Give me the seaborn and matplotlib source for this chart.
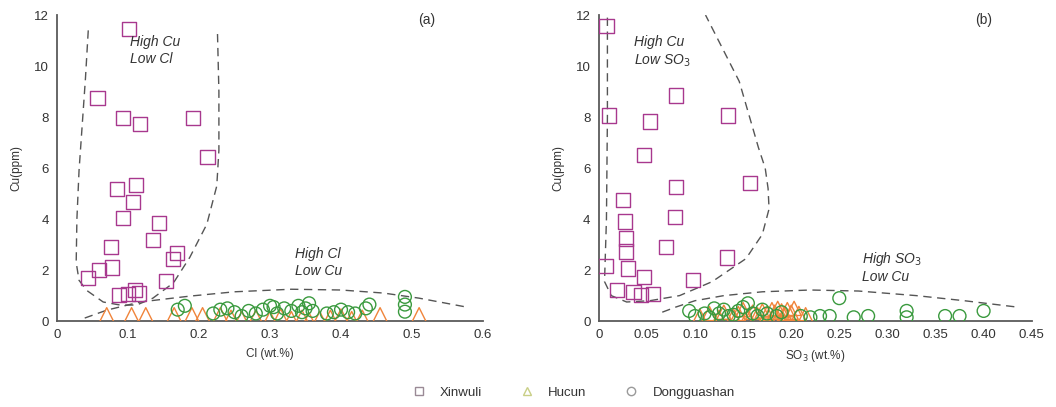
import numpy as np
import pandas as pd
import matplotlib
matplotlib.use("Agg")
import matplotlib.pyplot as plt
from matplotlib.lines import Line2D
import seaborn as sns

# ---------------- data ----------------
sites = ["Xinwuli", "Hucun", "Dongguashan"]

# panel (a): Cl vs Cu
xw_cl = [0.101, 0.057, 0.093, 0.117, 0.192, 0.212, 0.084, 0.111, 0.107, 0.093, 0.144, 0.135,
         0.076, 0.169, 0.163, 0.059, 0.077, 0.044, 0.154, 0.087, 0.100, 0.110, 0.116]
xw_cu_a = [11.45, 8.74, 7.95, 7.73, 7.95, 6.44, 5.17, 5.33, 4.67, 4.03, 3.85, 3.18,
           2.90, 2.66, 2.43, 2.00, 2.10, 1.69, 1.57, 1.02, 1.05, 1.22, 1.08]
hc_cl = [0.07, 0.105, 0.125, 0.165, 0.19, 0.205, 0.23, 0.245, 0.26, 0.28, 0.30, 0.315,
         0.33, 0.345, 0.355, 0.37, 0.385, 0.40, 0.415, 0.43, 0.455, 0.51]
hc_cu_a = [0.25, 0.25, 0.25, 0.25, 0.25, 0.25, 0.25, 0.15, 0.10, 0.15, 0.10, 0.20,
           0.10, 0.15, 0.05, 0.10, 0.15, 0.20, 0.10, 0.15, 0.25, 0.25]
dg_cl = [0.17, 0.18, 0.22, 0.23, 0.24, 0.25, 0.26, 0.27, 0.28, 0.29, 0.30, 0.305, 0.31, 0.32,
         0.33, 0.34, 0.345, 0.35, 0.355, 0.36, 0.38, 0.39, 0.40, 0.41, 0.42, 0.435, 0.44,
         0.49, 0.49, 0.49]
dg_cu_a = [0.45, 0.60, 0.30, 0.45, 0.50, 0.35, 0.20, 0.40, 0.30, 0.45, 0.60, 0.55, 0.30, 0.50,
           0.40, 0.60, 0.35, 0.50, 0.70, 0.40, 0.30, 0.35, 0.45, 0.35, 0.30, 0.50, 0.65,
           0.37, 0.65, 0.95]

# panel (b): SO3 vs Cu
xw_so3 = [0.008, 0.011, 0.080, 0.053, 0.134, 0.047, 0.080, 0.157, 0.025, 0.027, 0.079, 0.028,
          0.028, 0.070, 0.133, 0.007, 0.030, 0.047, 0.098, 0.019, 0.036, 0.044, 0.056]
xw_cu_b = [11.58, 8.06, 8.85, 7.83, 8.06, 6.52, 5.26, 5.41, 4.74, 3.91, 4.07, 3.24,
           2.73, 2.92, 2.49, 2.17, 2.06, 1.74, 1.62, 1.23, 1.15, 1.03, 1.07]
hc_so3 = [0.105, 0.115, 0.125, 0.13, 0.14, 0.145, 0.15, 0.155, 0.16, 0.165, 0.17, 0.175,
          0.18, 0.183, 0.186, 0.19, 0.193, 0.196, 0.20, 0.203, 0.208, 0.215]
hc_cu_b = [0.20, 0.30, 0.15, 0.35, 0.20, 0.30, 0.45, 0.20, 0.35, 0.25, 0.40, 0.30,
           0.45, 0.35, 0.50, 0.40, 0.30, 0.45, 0.35, 0.50, 0.30, 0.25]
dg_so3 = [0.094, 0.10, 0.11, 0.115, 0.12, 0.125, 0.13, 0.135, 0.14, 0.145, 0.15, 0.155, 0.16,
          0.165, 0.17, 0.175, 0.185, 0.19, 0.21, 0.22, 0.23, 0.24, 0.25, 0.265, 0.28, 0.32,
          0.32, 0.36, 0.375, 0.40]
dg_cu_b = [0.40, 0.20, 0.30, 0.15, 0.50, 0.30, 0.45, 0.20, 0.25, 0.40, 0.55, 0.70, 0.30,
           0.20, 0.45, 0.30, 0.20, 0.35, 0.20, 0.15, 0.20, 0.20, 0.90, 0.15, 0.20, 0.40,
           0.15, 0.20, 0.20, 0.40]

# field boundary curves (dashed)
a_up_x = [0.044, 0.040, 0.035, 0.031, 0.028, 0.027, 0.031, 0.042, 0.065, 0.089, 0.112, 0.135,
          0.164, 0.187, 0.211, 0.225, 0.228, 0.228, 0.226]
a_up_y = [11.4, 9.5, 7.5, 5.9, 4.0, 2.3, 1.6, 1.2, 0.75, 0.63, 0.63, 0.9,
          1.5, 2.5, 3.8, 5.3, 6.7, 9.0, 11.3]
a_lo_x = [0.039, 0.07, 0.117, 0.187, 0.25, 0.33, 0.40, 0.46, 0.51, 0.577]
a_lo_y = [0.12, 0.43, 0.75, 0.98, 1.15, 1.25, 1.22, 1.10, 0.90, 0.55]
b_up_x = [0.009, 0.009, 0.008, 0.006, 0.013, 0.029, 0.053, 0.084, 0.118, 0.153, 0.170, 0.177,
          0.176, 0.173, 0.166, 0.146, 0.111]
b_up_y = [11.9, 8.0, 4.0, 1.55, 1.0, 0.75, 0.8, 1.0, 1.55, 2.45, 3.4, 4.4,
          5.2, 6.0, 6.8, 9.4, 12.0]
b_lo_x = [0.066, 0.08, 0.10, 0.13, 0.17, 0.22, 0.27, 0.33, 0.38, 0.435]
b_lo_y = [0.35, 0.55, 0.80, 1.00, 1.15, 1.22, 1.18, 1.00, 0.80, 0.55]

yticks = [0, 2, 4, 6, 8, 10, 12]
xticks_a = [0, 0.1, 0.2, 0.3, 0.4, 0.5, 0.6]
xticklabels_a = ["0", "0.1", "0.2", "0.3", "0.4", "0.5", "0.6"]
xticks_b = [0, 0.05, 0.10, 0.15, 0.20, 0.25, 0.30, 0.35, 0.40, 0.45]
xticklabels_b = ["0", "0.05", "0.10", "0.15", "0.20", "0.25", "0.30", "0.35", "0.40", "0.45"]

# ---------------- style ----------------
sns.set_style("white")
plt.rcParams["font.family"] = ["Liberation Sans", "DejaVu Sans"]

colors = {"Xinwuli": "#a8388e", "Hucun": "#f0843a", "Dongguashan": "#3a9a3e"}
markers = {"Xinwuli": "s", "Hucun": "^", "Dongguashan": "o"}
sizes = {"Xinwuli": 105, "Hucun": 105, "Dongguashan": 85}
axis_col = "#5a5a5a"
txt_col = "#333333"

fig = plt.figure(figsize=(10.56, 4.07), dpi=100)
ax_a = fig.add_axes([0.054, 0.211, 0.4034, 0.752])
ax_b = fig.add_axes([0.567, 0.211, 0.410, 0.752])

def panel(ax, sets, xlim, xticks, xticklabels, xlabel, curves):
    for site, (xs, ys) in zip(sites, sets):
        df = pd.DataFrame({"x": xs, "y": ys})
        sns.scatterplot(data=df, x="x", y="y", ax=ax, marker=markers[site], s=sizes[site],
                        facecolor="none", edgecolor=colors[site], linewidth=1.0,
                        legend=False, zorder=3)
    for cx, cy in curves:
        ax.plot(cx, cy, linestyle=(0, (6, 4)), color="#555555", linewidth=1.0, zorder=2)
    ax.set_xlim(xlim)
    ax.set_ylim(0, 12)
    ax.set_xticks(xticks)
    ax.set_xticklabels(xticklabels)
    ax.set_yticks(yticks)
    ax.set_yticklabels([str(t) for t in yticks])
    for s in ["top", "right"]:
        ax.spines[s].set_visible(False)
    for s in ["left", "bottom"]:
        ax.spines[s].set_color(axis_col)
        ax.spines[s].set_linewidth(1.3)
    ax.tick_params(direction="in", length=3, width=1, colors=axis_col,
                   labelcolor=txt_col, labelsize=9.5, pad=6)
    ax.set_xlabel(xlabel, fontsize=8.5, color=txt_col, labelpad=5)
    ax.set_ylabel("Cu(ppm)", fontsize=8.5, color=txt_col, labelpad=8)
    ax.margins(0)

panel(ax_a, [(xw_cl, xw_cu_a), (hc_cl, hc_cu_a), (dg_cl, dg_cu_a)],
      (0, 0.6), xticks_a, xticklabels_a, "Cl (wt.%)",
      [(a_up_x, a_up_y), (a_lo_x, a_lo_y)])
panel(ax_b, [(xw_so3, xw_cu_b), (hc_so3, hc_cu_b), (dg_so3, dg_cu_b)],
      (0, 0.45), xticks_b, xticklabels_b, "SO$_3$ (wt.%)",
      [(b_up_x, b_up_y), (b_lo_x, b_lo_y)])

tk = dict(fontsize=10, style="italic", color=txt_col, linespacing=1.25, va="top", ha="left")
ax_a.text(0.103, 11.2, "High Cu\nLow Cl", **tk)
ax_a.text(0.335, 2.9, "High Cl\nLow Cu", **tk)
ax_b.text(0.037, 11.2, "High Cu\nLow SO$_3$", **tk)
ax_b.text(0.274, 2.8, "High SO$_3$\nLow Cu", **tk)
ax_a.text(0.52, 11.8, "(a)", fontsize=10, color=txt_col, ha="center", va="center")
ax_b.text(0.40, 11.8, "(b)", fontsize=10, color=txt_col, ha="center", va="center")

handles = [Line2D([], [], linestyle="none", marker="s", markersize=6, markerfacecolor="none",
                  markeredgecolor="#9a8a96", markeredgewidth=1.0),
           Line2D([], [], linestyle="none", marker="^", markersize=6, markerfacecolor="none",
                  markeredgecolor="#c9cf86", markeredgewidth=1.0),
           Line2D([], [], linestyle="none", marker="o", markersize=6, markerfacecolor="none",
                  markeredgecolor="#9a9a9a", markeredgewidth=1.0)]
fig.legend(handles, sites, loc="center", bbox_to_anchor=(0.54, 0.035), ncol=3, frameon=False,
           fontsize=9.5, handletextpad=0.6, columnspacing=2.4, labelcolor=txt_col)

fig.savefig("out.png", dpi=100)
